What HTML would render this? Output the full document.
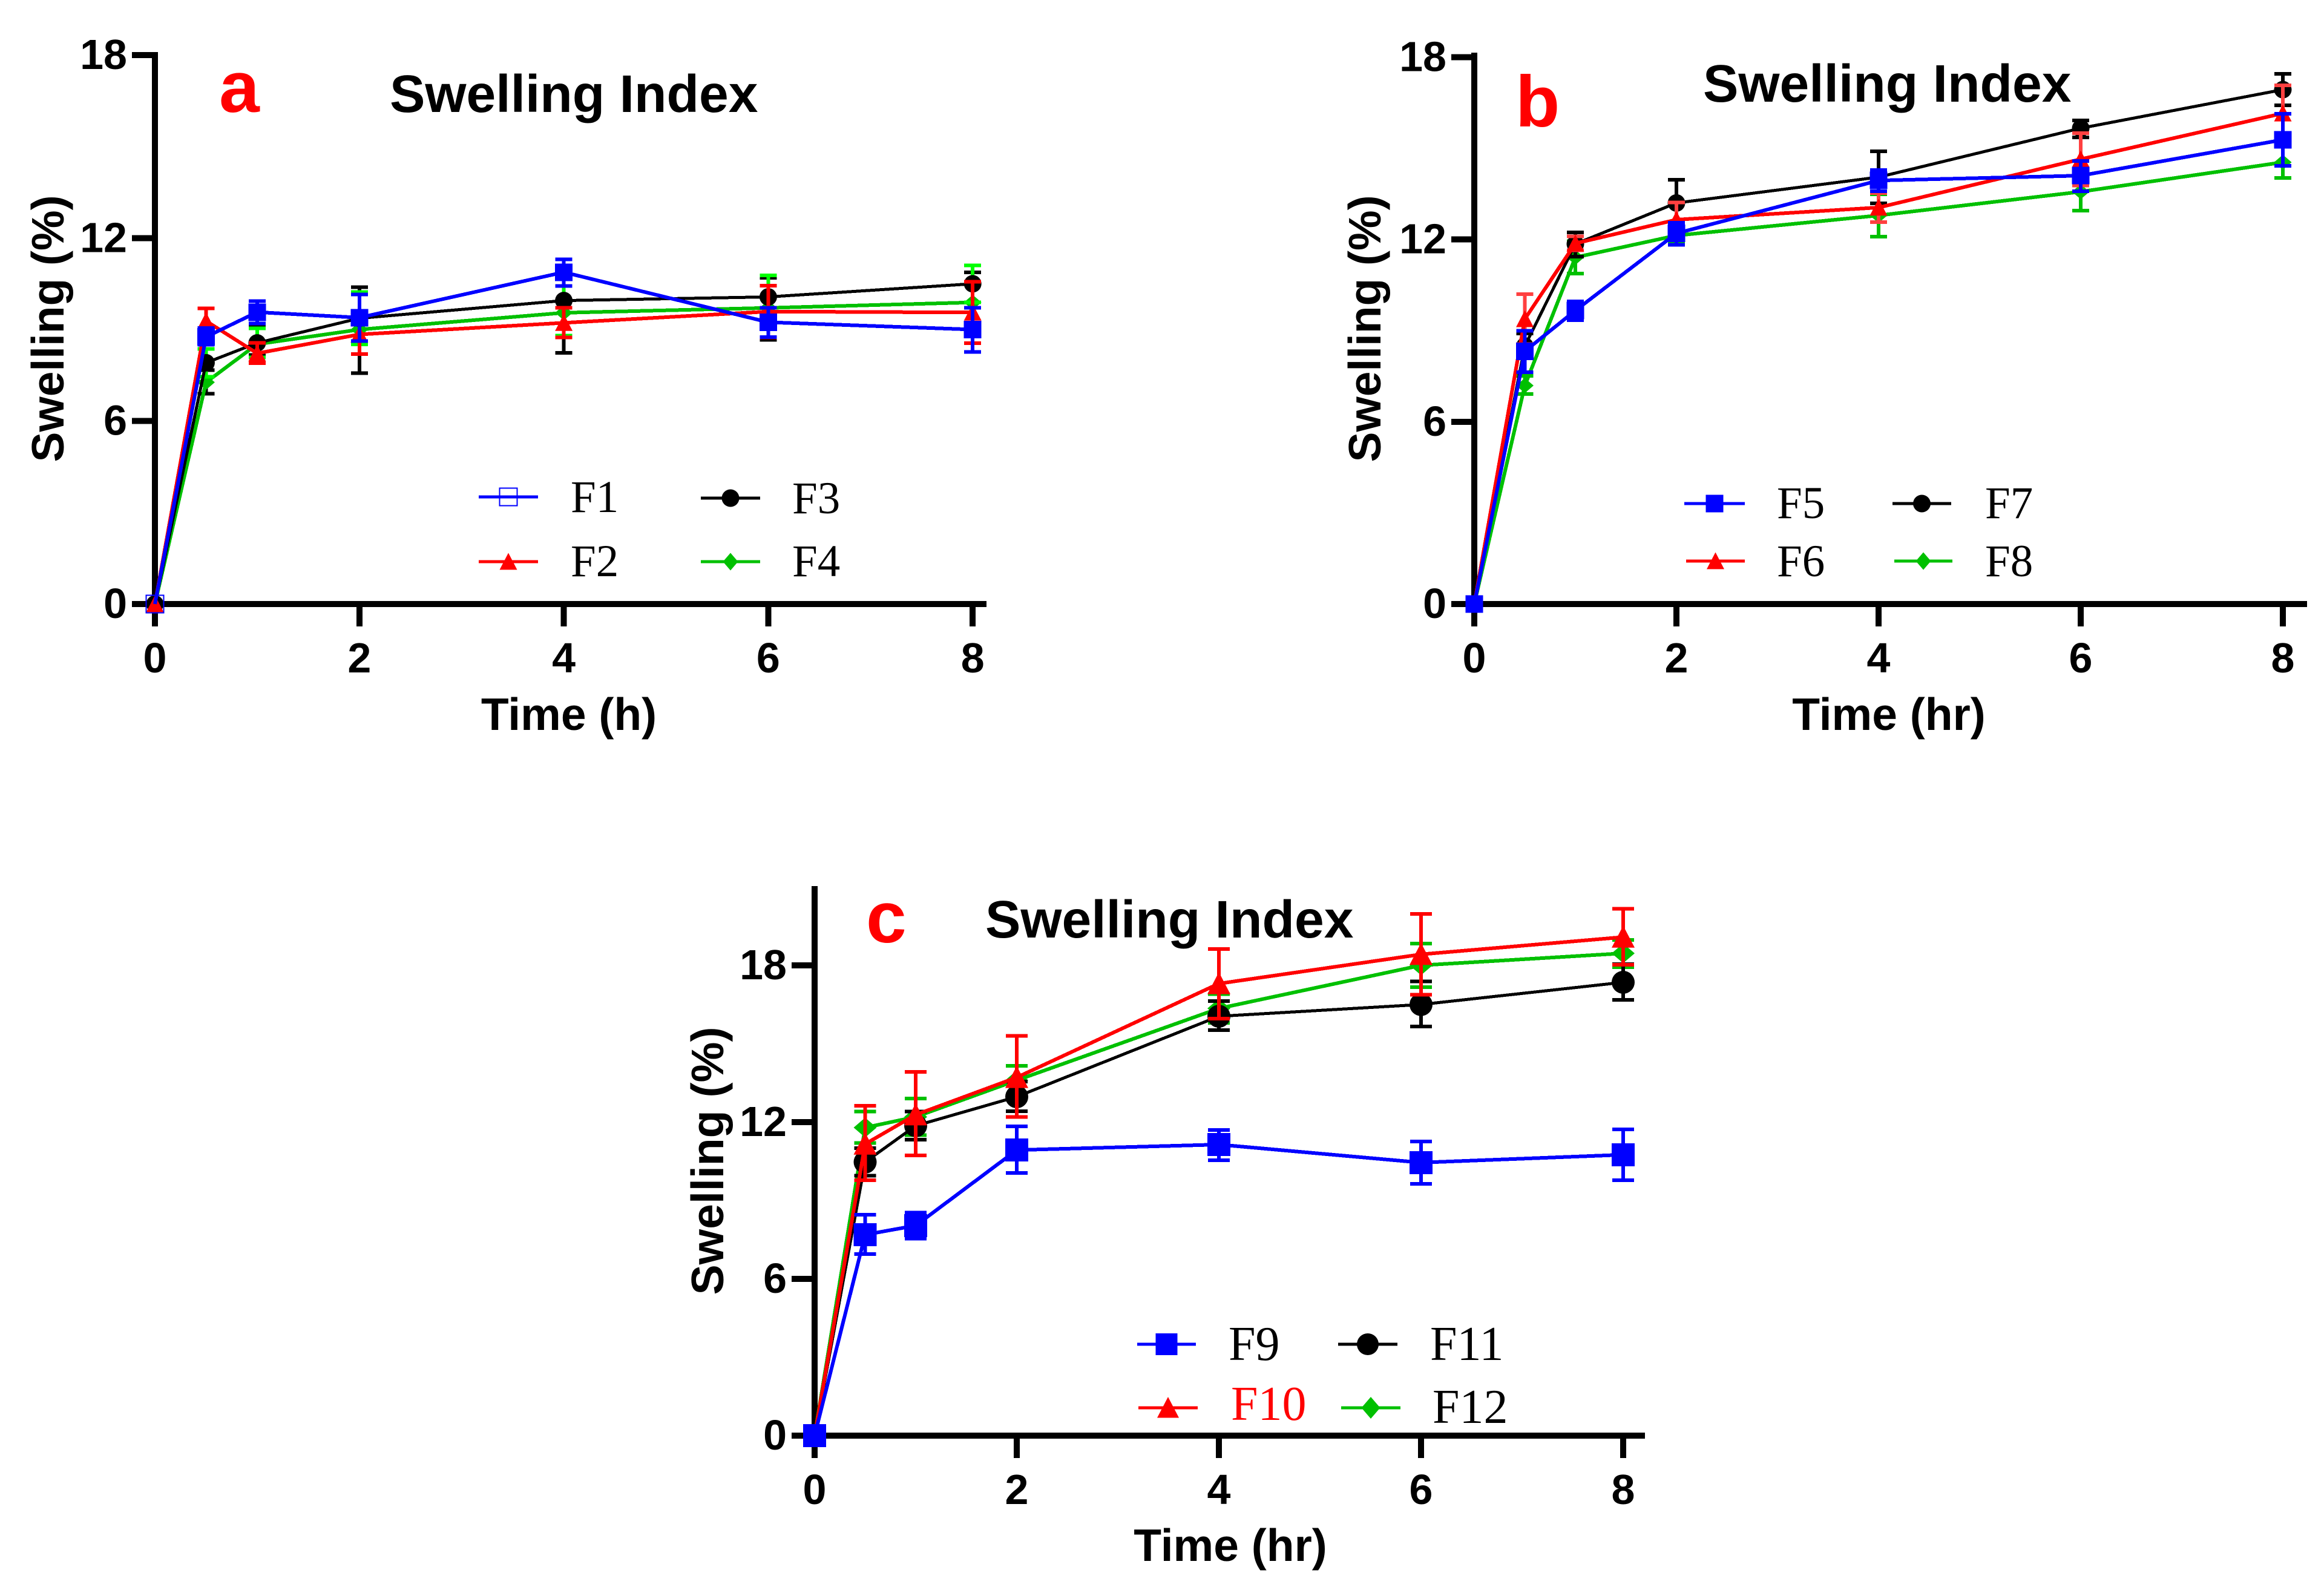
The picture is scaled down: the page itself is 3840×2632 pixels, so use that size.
<!DOCTYPE html>
<html lang="en">
<head>
<meta charset="utf-8">
<title>Swelling Index</title>
<style>
html,body{margin:0;padding:0;background:#fff;}
svg{display:block;}
</style>
</head>
<body>
<svg id="figure" xmlns="http://www.w3.org/2000/svg" width="3840" height="2632" viewBox="0 0 3840 2632"></svg>
<script>
/* ---------- shared data ---------- */
const times = [0, 0.5, 1, 2, 4, 6, 8];
const xTickValues = [0, 2, 4, 6, 8];
const yTickValues = [0, 6, 12, 18];

/* ---------- panel a ---------- */
const f1Mean = [0, 8.76, 9.57, 9.39, 10.88, 9.24, 9.0];
const f1Hi   = [0, 9.05, 9.93, 10.15, 11.3, 9.71, 9.71];
const f1Lo   = [0, 8.5, 9.2, 8.62, 10.43, 8.75, 8.27];
const f2Mean = [0, 9.28, 8.22, 8.84, 9.22, 9.59, 9.56];
const f2Hi   = [0, 9.69, 8.56, 9.3, 9.71, 10.44, 10.57];
const f2Lo   = [0, 8.9, 7.9, 8.2, 8.74, 8.74, 8.55];
const f3Mean = [0, 7.91, 8.56, 9.37, 9.95, 10.07, 10.5];
const f3Hi   = [0, 8.36, 9.04, 10.23, 11.1, 10.78, 11.1];
const f3Lo   = [0, 7.45, 8.09, 8.51, 8.8, 9.36, 9.89];
const f4Mean = [0, 7.27, 8.52, 9.0, 9.55, 9.71, 9.89];
const f4Hi   = [0, 7.67, 9.12, 10.39, 10.86, 10.7, 10.88];
const f4Lo   = [0, 6.9, 8.17, 7.57, 8.24, 8.66, 8.9];

/* ---------- panel b ---------- */
const f5Mean = [0, 8.32, 9.66, 12.2, 13.94, 14.1, 15.28];
const f5Hi   = [0, 8.99, 9.96, 12.55, 14.28, 14.58, 16.14];
const f5Lo   = [0, 7.63, 9.34, 11.82, 13.59, 13.59, 14.42];
const f6Mean = [0, 9.38, 11.87, 12.65, 13.05, 14.64, 16.15];
const f6Hi   = [0, 10.2, 12.1, 13.22, 13.53, 15.5, 17.07];
const f6Lo   = [0, 8.56, 11.64, 12.08, 12.57, 13.77, 15.23];
const f7Mean = [0, 8.49, 11.85, 13.2, 14.05, 15.66, 16.93];
const f7Hi   = [0, 8.9, 12.23, 13.96, 14.9, 15.92, 17.45];
const f7Lo   = [0, 8.1, 11.43, 12.45, 13.19, 15.36, 16.41];
const f8Mean = [0, 7.19, 11.41, 12.13, 12.79, 13.57, 14.54];
const f8Hi   = [0, 7.51, 11.94, 12.38, 13.49, 14.19, 15.06];
const f8Lo   = [0, 6.91, 10.88, 11.88, 12.09, 12.95, 14.02];

/* ---------- panel c ---------- */
const f9Mean  = [0, 7.69, 8.04, 10.93, 11.14, 10.45, 10.75];
const f9Hi    = [0, 8.46, 8.54, 11.84, 11.7, 11.26, 11.72];
const f9Lo    = [0, 6.95, 7.54, 10.05, 10.54, 9.64, 9.78];
const f10Mean = [0, 11.16, 12.28, 13.71, 17.3, 18.42, 19.08];
const f10Hi   = [0, 12.62, 13.92, 15.3, 18.62, 19.97, 20.17];
const f10Lo   = [0, 9.78, 10.72, 12.2, 15.96, 16.88, 18.02];
const f11Mean = [0, 10.47, 11.86, 12.97, 16.05, 16.5, 17.35];
const f11Hi   = [0, 11.0, 12.4, 13.55, 16.63, 17.39, 18.04];
const f11Lo   = [0, 9.95, 11.33, 12.42, 15.52, 15.66, 16.68];
const f12Mean = [0, 11.79, 12.2, 13.6, 16.35, 18.0, 18.46];
const f12Hi   = [0, 12.4, 12.9, 14.15, 16.9, 18.83, 18.97];
const f12Lo   = [0, 11.2, 11.5, 13.05, 15.8, 17.16, 17.93];

const BLUE = '#0000ff', RED = '#ff0000', BLACK = '#000000', GREEN = '#00c000', LIME = '#00ff00', SOFTRED = '#ff4040';
const SANS = '"Liberation Sans", sans-serif';
const SERIF = '"Liberation Serif", serif';
const NS = 'http://www.w3.org/2000/svg';
const figure = document.getElementById('figure');

function make(parent, tag, name, attrs, text) {
  const el = document.createElementNS(NS, tag);
  
  
  for (const k in attrs) el.setAttribute(k, attrs[k]);
  if (text !== undefined) el.textContent = text;
  parent.appendChild(el);
  return el;
}

function rect(parent, name, x1, y1, x2, y2, color) {
  return make(parent, 'rect', name, {x: x1, y: y1, width: x2 - x1, height: y2 - y1, fill: color, 'shape-rendering': 'crispEdges'});
}

function label(parent, name, x, y, size, weight, family, color, anchor, text) {
  return make(parent, 'text', name, {x: x, y: y, 'font-size': size, 'font-weight': weight, 'font-family': family, fill: color, 'text-anchor': anchor}, text);
}

function marker(parent, name, shape, cx, cy, s, color, open, inLegend) {
  const h = s / 2;
  if (shape === 'circle') {
    return make(parent, 'ellipse', name, {cx: cx, cy: cy, rx: h, ry: h, fill: color});
  }
  if (shape === 'square') {
    if (open) {
      return make(parent, 'rect', name, {x: cx - h, y: cy - h, width: s, height: s, fill: 'none', stroke: color, 'stroke-width': 2, 'shape-rendering': 'crispEdges'});
    }
    return make(parent, 'rect', name, {x: cx - h, y: cy - h, width: s, height: s, fill: color, 'shape-rendering': 'crispEdges'});
  }
  if (shape === 'triangle') {
    const pts = [[cx, cy - 0.5 * s], [cx + h, cy + 0.46 * s], [cx - h, cy + 0.46 * s]];
    return make(parent, 'polygon', name, {points: pts.map(p => p.join(',')).join(' '), fill: color});
  }
  const hw = inLegend ? 0.43 * s : h;
  const hh = inLegend ? h : 0.43 * s;
  const pts = [[cx, cy - hh], [cx + hw, cy], [cx, cy + hh], [cx - hw, cy]];
  return make(parent, 'polygon', name, {points: pts.map(p => p.join(',')).join(' '), fill: color});
}

function drawPanel(p) {
  const g = make(figure, 'g', 'panel-' + p.id, {});
  const xs = t => p.x0 + p.xUnit * t;
  const ys = v => p.y0 - p.yUnit * v;

  /* axes first: every marker sits on top of them */
  const axes = make(g, 'g', 'axes-' + p.id, {});
  rect(axes, 'y-axis-line', p.x0 - 5, p.yTop, p.x0 + 5, p.y0 + 5, BLACK);
  rect(axes, 'x-axis-line', p.x0 - 5, p.y0 - 5, p.xEnd, p.y0 + 5, BLACK);
  yTickValues.forEach(v => {
    rect(axes, 'y-tick', p.x0 - 38, ys(v) - 5, p.x0, ys(v) + 5, BLACK);
    label(axes, 'y-tick-label', p.x0 - 46, ys(v) + 23, 70, 700, SANS, BLACK, 'end', String(v));
  });
  xTickValues.forEach(v => {
    rect(axes, 'x-tick', xs(v) - 5, p.y0, xs(v) + 5, p.y0 + 37, BLACK);
    label(axes, 'x-tick-label', xs(v), p.y0 + 113, 70, 700, SANS, BLACK, 'middle', String(v));
  });

  /* series: drawn in reverse so the first series ends on top */
  const plot = make(g, 'g', 'plot-area-' + p.id, {});
  p.series.slice().reverse().forEach(s => {
    const sg = make(plot, 'g', 'series-' + s.name.toLowerCase(), {});
    times.forEach((t, i) => {
      if (s.hi[i] === s.lo[i]) return;
      const x = xs(t);
      rect(sg, 'error-stem-' + s.name.toLowerCase(), x - 3, ys(s.hi[i]), x + 3, ys(s.lo[i]), s.err);
      rect(sg, 'error-cap-upper-' + s.name.toLowerCase(), x - p.cap, ys(s.hi[i]) - 3, x + p.cap, ys(s.hi[i]) + 3, s.err);
      rect(sg, 'error-cap-lower-' + s.name.toLowerCase(), x - p.cap, ys(s.lo[i]) - 3, x + p.cap, ys(s.lo[i]) + 3, s.err);
    });
    times.forEach((t, i) => {
      marker(sg, 'point-' + s.name.toLowerCase(), s.shape, xs(t), ys(s.mean[i]), p.marker, s.color, s.openFirst && i === 0, false);
    });
    make(sg, 'polyline', 'line-' + s.name.toLowerCase(), {
      points: times.map((t, i) => xs(t) + ',' + ys(s.mean[i])).join(' '),
      fill: 'none', stroke: s.color, 'stroke-width': s.width, 'stroke-linejoin': 'miter', 'shape-rendering': 'crispEdges'
    });
  });

  /* titles */
  label(g, 'chart-title', p.titleX, p.titleY, 87.6, 700, SANS, BLACK, 'start', 'Swelling Index');
  label(g, 'panel-letter', p.letterX, p.letterY, 120, 700, SANS, RED, 'start', p.id);
  label(g, 'x-axis-title', p.xTitleX, p.xTitleY, 75, 700, SANS, BLACK, 'middle', p.xTitle);
  make(g, 'text', 'y-axis-title', {
    x: 0, y: 0, transform: 'translate(' + p.yTitleX + ',' + p.yTitleY + ') rotate(-90)',
    'font-size': 75, 'font-weight': 700, 'font-family': SANS, fill: BLACK, 'text-anchor': 'middle',
    textLength: p.yTitleLen, lengthAdjust: 'spacingAndGlyphs'
  }, 'Swelling (%)');

  /* legend */
  const lg = make(g, 'g', 'legend-' + p.id, {});
  p.legend.forEach((e, i) => {
    const s = p.series[i];
    const en = make(lg, 'g', 'legend-entry-' + s.name.toLowerCase(), {});
    rect(en, 'legend-line-' + s.name.toLowerCase(), e.x1, e.y - 2.5, e.x2, e.y + 2.5, s.color);
    marker(en, 'legend-marker-' + s.name.toLowerCase(), s.shape, (e.x1 + e.x2) / 2, e.y, p.legendMarker, s.color, s.openLegend, true);
    label(en, 'legend-label-' + s.name.toLowerCase(), e.tx, e.ty, p.legendFont, 400, SERIF, e.textColor || BLACK, 'start', s.name);
  });
}

drawPanel({
  id: 'a', x0: 256, xUnit: 168.9, y0: 998, yUnit: 50.39, yTop: 86, xEnd: 1630,
  cap: 14, marker: 29, legendMarker: 29, legendFont: 75,
  titleX: 644, titleY: 185, letterX: 362, letterY: 185,
  xTitle: 'Time (h)', xTitleX: 940, xTitleY: 1206,
  yTitleX: 105, yTitleY: 543, yTitleLen: 441,
  series: [
    {name: 'F1', mean: f1Mean, hi: f1Hi, lo: f1Lo, color: BLUE, err: BLUE, shape: 'square', width: 6, openFirst: true, openLegend: true},
    {name: 'F2', mean: f2Mean, hi: f2Hi, lo: f2Lo, color: RED, err: RED, shape: 'triangle', width: 6},
    {name: 'F3', mean: f3Mean, hi: f3Hi, lo: f3Lo, color: BLACK, err: LIME, shape: 'circle', width: 5},
    {name: 'F4', mean: f4Mean, hi: f4Hi, lo: f4Lo, color: GREEN, err: BLACK, shape: 'diamond', width: 6}
  ],
  legend: [
    {x1: 791, x2: 889, y: 821, tx: 943, ty: 846},
    {x1: 791, x2: 889, y: 928, tx: 943, ty: 952},
    {x1: 1158, x2: 1256, y: 823, tx: 1309, ty: 848},
    {x1: 1158, x2: 1256, y: 928, tx: 1309, ty: 952}
  ]
});

drawPanel({
  id: 'b', x0: 2436, xUnit: 167, y0: 998, yUnit: 50.2, yTop: 87, xEnd: 3812,
  cap: 14, marker: 29, legendMarker: 29, legendFont: 75,
  titleX: 2814, titleY: 168, letterX: 2504, letterY: 209,
  xTitle: 'Time (hr)', xTitleX: 3121, xTitleY: 1206,
  yTitleX: 2281, yTitleY: 543, yTitleLen: 441,
  series: [
    {name: 'F5', mean: f5Mean, hi: f5Hi, lo: f5Lo, color: BLUE, err: BLUE, shape: 'square', width: 6},
    {name: 'F6', mean: f6Mean, hi: f6Hi, lo: f6Lo, color: RED, err: SOFTRED, shape: 'triangle', width: 6},
    {name: 'F7', mean: f7Mean, hi: f7Hi, lo: f7Lo, color: BLACK, err: BLACK, shape: 'circle', width: 5},
    {name: 'F8', mean: f8Mean, hi: f8Hi, lo: f8Lo, color: GREEN, err: GREEN, shape: 'diamond', width: 6}
  ],
  legend: [
    {x1: 2783, x2: 2883, y: 832, tx: 2936, ty: 856},
    {x1: 2786, x2: 2883, y: 927, tx: 2936, ty: 952},
    {x1: 3127, x2: 3224, y: 832, tx: 3280, ty: 856},
    {x1: 3130, x2: 3226, y: 927, tx: 3280, ty: 952}
  ]
});

drawPanel({
  id: 'c', x0: 1346, xUnit: 167, y0: 2372, yUnit: 43.17, yTop: 1464, xEnd: 2718,
  cap: 18, marker: 38, legendMarker: 36, legendFont: 80,
  titleX: 1628, titleY: 1549, letterX: 1431, letterY: 1557,
  xTitle: 'Time (hr)', xTitleX: 2033, xTitleY: 2579,
  yTitleX: 1195, yTitleY: 1918, yTitleLen: 443,
  series: [
    {name: 'F9', mean: f9Mean, hi: f9Hi, lo: f9Lo, color: BLUE, err: BLUE, shape: 'square', width: 6},
    {name: 'F10', mean: f10Mean, hi: f10Hi, lo: f10Lo, color: RED, err: RED, shape: 'triangle', width: 6},
    {name: 'F11', mean: f11Mean, hi: f11Hi, lo: f11Lo, color: BLACK, err: BLACK, shape: 'circle', width: 5},
    {name: 'F12', mean: f12Mean, hi: f12Hi, lo: f12Lo, color: GREEN, err: GREEN, shape: 'diamond', width: 6}
  ],
  legend: [
    {x1: 1879, x2: 1976, y: 2221, tx: 2030, ty: 2247},
    {x1: 1881, x2: 1979, y: 2326, tx: 2034, ty: 2346, textColor: RED},
    {x1: 2211, x2: 2309, y: 2221, tx: 2363, ty: 2247},
    {x1: 2216, x2: 2314, y: 2326, tx: 2367, ty: 2351}
  ]
});
</script>
</body>
</html>
